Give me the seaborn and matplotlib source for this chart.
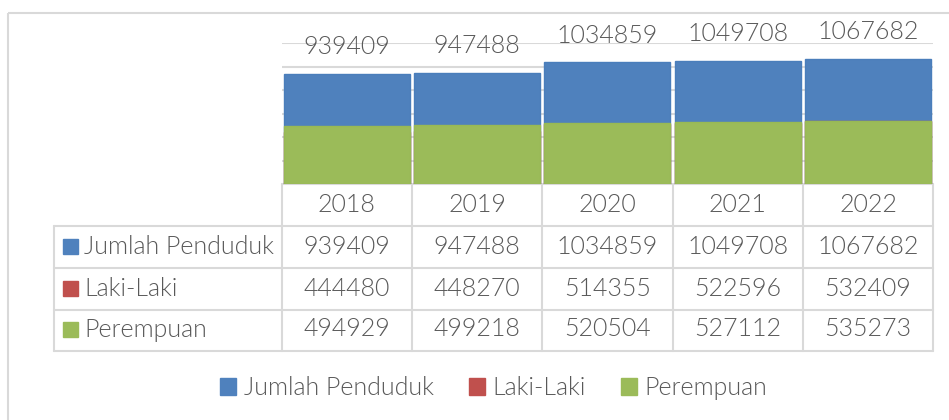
import pandas as pd
import matplotlib
matplotlib.use("Agg")
import matplotlib.pyplot as plt
from matplotlib.patches import Patch, Rectangle
import seaborn as sns

# ---- data ----
YEARS = ["2018", "2019", "2020", "2021", "2022"]
JUMLAH = [939409, 947488, 1034859, 1049708, 1067682]
LAKI = [444480, 448270, 514355, 522596, 532409]
PEREMPUAN = [494929, 499218, 520504, 527112, 535273]
SERIES = ["Jumlah Penduduk", "Laki-Laki", "Perempuan"]

# ---- style ----
COLORS = ["#4F81BD", "#C0504D", "#9BBB59"]
EDGES = ["#4A7EBB", "#BE4B48", "#98B954"]
TXT = "#595959"
LINE = "#D9D9D9"
FS = 18
W, H = 949, 420

sns.set_style("white")
plt.rcParams["font.family"] = ["Lato", "DejaVu Sans"]
plt.rcParams["font.weight"] = 300

df = pd.DataFrame({"Tahun": YEARS, SERIES[0]: JUMLAH, SERIES[1]: LAKI, SERIES[2]: PEREMPUAN})


def box(x0, y0, x1, y1):
    # pixel box (top-left origin) -> figure fraction rect
    return [x0 / W, 1 - y1 / H, (x1 - x0) / W, (y1 - y0) / H]


fig = plt.figure(figsize=(W / 100, H / 100), dpi=100)

# overlay in pixel coords for the border and data table
ov = fig.add_axes([0, 0, 1, 1])
ov.set_xlim(0, W)
ov.set_ylim(H, 0)
ov.axis("off")
ov.add_patch(Rectangle((8.5, 13), 960, 430, fill=False, edgecolor=LINE, lw=1.5))

# ---- bar plot (overlapping bars, Excel style) ----
ax = fig.add_axes(box(281.7, 43, 933, 184))
for name, c, e in zip(SERIES, COLORS, EDGES):
    sns.barplot(data=df, x="Tahun", y=name, color=c, saturation=1, width=0.967,
                edgecolor=e, linewidth=1, ax=ax)
ax.set_xlim(-0.5, len(YEARS) - 0.5)
ax.set_ylim(0, 1200000)
ax.set_yticks(range(0, 1200001, 200000))
ax.yaxis.grid(True, color=LINE, lw=1.5)
ax.set_axisbelow(True)
ax.tick_params(left=False, bottom=False, labelleft=False, labelbottom=False)
ax.set_xlabel("")
ax.set_ylabel("")
for s in ax.spines.values():
    s.set_visible(False)

for i, v in enumerate(JUMLAH):
    ax.annotate(str(v), (i, v), xytext=(0, 14), textcoords="offset points",
                ha="center", va="baseline", fontsize=FS, color=TXT, annotation_clip=False)

# ---- data table ----
col_x = [281.7, 412, 542, 672.7, 803, 933]
row_y = [184, 226, 268, 310, 351]
tab_left = 54

ov.plot([col_x[0], col_x[-1]], [row_y[0]] * 2, color=LINE, lw=1.5)
for y in row_y[1:]:
    ov.plot([tab_left, col_x[-1]], [y, y], color=LINE, lw=1.5)
for x in col_x:
    ov.plot([x, x], [row_y[0], row_y[-1]], color=LINE, lw=1.5)
ov.plot([tab_left, tab_left], [row_y[1], row_y[-1]], color=LINE, lw=1.5)

centers = [(a + b) / 2 for a, b in zip(col_x[:-1], col_x[1:])]
for cx, yr in zip(centers, YEARS):
    ov.text(cx, row_y[1] - 14, yr, ha="center", va="baseline", fontsize=FS, color=TXT)

for r, (name, vals, c) in enumerate(zip(SERIES, [JUMLAH, LAKI, PEREMPUAN], COLORS)):
    base = row_y[r + 2] - 14.5
    ov.add_patch(Rectangle((63, base - 15), 15, 15, color=c))
    ov.text(84, base, name, ha="left", va="baseline", fontsize=FS, color=TXT)
    for cx, v in zip(centers, vals):
        ov.text(cx, base, str(v), ha="center", va="baseline", fontsize=FS, color=TXT)

# ---- legend ----
handles = [Patch(facecolor=c, edgecolor=c) for c in COLORS]
fig.legend(handles, SERIES, loc="center", bbox_to_anchor=(493.5 / W, 1 - 388 / H),
           ncol=3, frameon=False, fontsize=FS, labelcolor=TXT,
           handlelength=0.65, handleheight=0.65, handletextpad=0.3, columnspacing=1.4)

fig.savefig("out.png", dpi=100)
